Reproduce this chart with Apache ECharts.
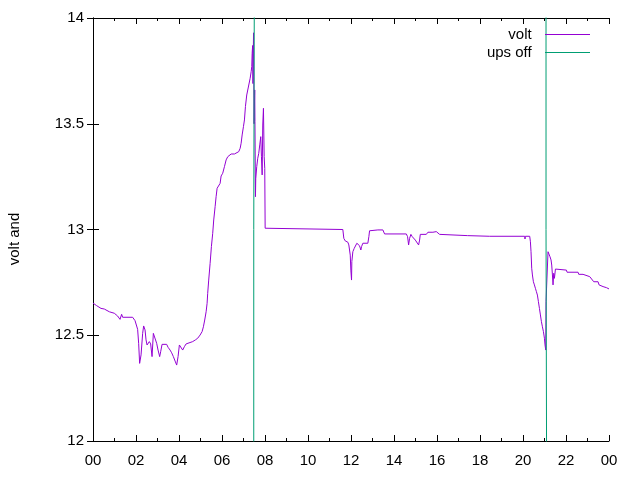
<!DOCTYPE html>
<html>
<head>
<meta charset="utf-8">
<title>volt</title>
<style>
  html, body { margin: 0; padding: 0; background: #fff; }
  #charts { width: 640px; height: 480px; }
</style>
</head>
<body>
<div id="charts"></div>
<script src="https://cdn.jsdelivr.net/npm/echarts@6/dist/echarts.min.js"></script>
<script>
// hours of day (0..24) and battery voltage
var voltHours = [0, 0.168, 0.372, 0.526, 0.759, 0.992, 1.145, 1.257, 1.332, 1.378, 1.844, 1.955, 2.076, 2.123, 2.169, 2.235,
  2.309, 2.356, 2.421, 2.467, 2.514, 2.561, 2.621, 2.682, 2.747, 2.807, 2.868, 2.961, 3.026, 3.101, 3.147, 3.212,
  3.426, 3.492, 3.585, 3.659, 3.738, 3.818, 3.892, 3.957, 4.018, 4.111, 4.171, 4.250, 4.330, 4.637, 4.763, 4.870,
  4.981, 5.074, 5.135, 5.196, 5.261, 5.307, 5.335, 5.382, 5.447, 5.507, 5.568, 5.615, 5.680, 5.726, 5.773, 5.833,
  5.912, 5.959, 6.034, 6.113, 6.192, 6.266, 6.345, 6.425, 6.578, 6.657, 6.778, 6.844, 6.890, 6.937, 6.997, 7.044,
  7.090, 7.151, 7.244, 7.309, 7.356, 7.384, 7.402, 7.425, 7.439, 7.467, 7.491, 7.523, 7.533, 7.556, 7.570, 7.616,
  7.663, 7.709, 7.756, 7.803, 7.835, 7.868, 7.896, 7.928, 7.961, 7.989, 8.007, 11.620, 11.667, 11.732, 11.853, 11.899,
  11.965, 11.993, 12.025, 12.039, 12.086, 12.151, 12.212, 12.272, 12.337, 12.398, 12.458, 12.491, 12.551, 12.784,
  12.831, 12.863, 12.942, 13.250, 13.282, 13.306, 13.482, 13.562, 14.572, 14.632, 14.679, 14.725, 14.786, 14.851,
  14.912, 14.991, 15.065, 15.144, 15.191, 15.223, 15.503, 15.577, 15.810, 15.968, 16.122, 17.426, 18.450, 18.496,
  18.543, 20.079, 20.093, 20.112, 20.312, 20.345, 20.373, 20.405, 20.438, 20.484, 20.531, 20.577, 20.624, 20.670,
  20.717, 20.764, 20.810, 20.857, 20.903, 20.950, 20.996, 21.024, 21.057, 21.071, 21.164, 21.211, 21.257, 21.304,
  21.336, 21.369, 21.397, 21.429, 21.462, 21.508, 21.555, 22.020, 22.049, 22.561, 22.593, 22.793, 22.826, 23.105,
  23.152, 23.291, 23.492, 23.538, 23.724, 23.883, 24.0];
var voltValues = [12.652, 12.640, 12.627, 12.624, 12.611, 12.604, 12.591, 12.575, 12.599, 12.585, 12.585, 12.569, 12.528, 12.462, 12.367, 12.407,
  12.509, 12.544, 12.525, 12.478, 12.454, 12.462, 12.470, 12.459, 12.399, 12.509, 12.501, 12.462, 12.430, 12.399, 12.422, 12.457,
  12.457, 12.443, 12.430, 12.417, 12.399, 12.378, 12.359, 12.399, 12.454, 12.457, 12.430, 12.446, 12.459, 12.470, 12.478, 12.486,
  12.501, 12.517, 12.540, 12.572, 12.611, 12.651, 12.698, 12.761, 12.840, 12.919, 12.982, 13.045, 13.108, 13.155, 13.195, 13.202,
  13.218, 13.253, 13.266, 13.297, 13.329, 13.344, 13.352, 13.357, 13.357, 13.365, 13.368, 13.384, 13.408, 13.447, 13.486, 13.518,
  13.581, 13.636, 13.636, 13.715, 13.746, 13.770, 13.833, 13.870, 13.690, 13.930, 13.500, 13.660, 13.510, 13.155, 13.240, 13.297,
  13.337, 13.360, 13.400, 13.439, 13.344, 13.258, 13.494, 13.573, 13.344, 13.289, 13.006, 13.000, 12.958, 12.946, 12.940, 12.927,
  12.879, 12.808, 12.761, 12.848, 12.895, 12.911, 12.908, 12.935, 12.927, 12.923, 12.903, 12.919, 12.935, 12.935,
  12.966, 12.994, 12.998, 12.998, 12.990, 12.998, 12.998, 12.979, 12.979, 12.966, 12.927, 12.958, 12.977, 12.966,
  12.958, 12.950, 12.942, 12.927, 12.950, 12.977, 12.977, 12.987, 12.987, 12.990, 12.977, 12.971, 12.968, 12.960,
  12.968, 12.968, 12.955, 12.968, 12.968, 12.942, 12.895, 12.817, 12.785, 12.753, 12.738, 12.722, 12.706, 12.690,
  12.659, 12.627, 12.596, 12.564, 12.540, 12.517, 12.486, 12.454, 12.430, 12.660, 12.895, 12.887, 12.871, 12.856,
  12.832, 12.785, 12.738, 12.793, 12.769, 12.813, 12.808, 12.808, 12.798, 12.798, 12.788, 12.788, 12.780, 12.777,
  12.769, 12.753, 12.753, 12.738, 12.730, 12.725, 12.719];

// ups off markers (run off the plot top and bottom)
var upsHours = [7.477, 7.477, 7.523, 7.523, 14, 21.071, 21.071, 21.118, 21.118];
var upsValues = [11, 13, 13, 15, '-', 15, 13, 13, 11];

var xTicks = ['00', '02', '04', '06', '08', '10', '12', '14', '16', '18', '20', '22', '00'];

function zip(xs, ys) {
  var out = [];
  for (var i = 0; i < xs.length; i++) out.push([xs[i], ys[i]]);
  return out;
}

var myChart = echarts.init(document.getElementById('charts'));
var font = 'Liberation Sans, Arial, sans-serif';

var tickStyle = { show: true, inside: true, length: 6, lineStyle: { color: '#000' } };
var minorStyle = { show: true, splitNumber: 2, length: 3, lineStyle: { color: '#000' } };
var lineIcon = 'path://M0,0 L45,0 L45,1 L0,1 Z';

var option = {
  animation: false,
  textStyle: { fontFamily: font },
  grid: { left: 93, top: 18, width: 516, height: 423, containLabel: false },
  // y label sits at the canvas middle, like gnuplot does
  graphic: [{
    type: 'text',
    x: 15, y: 239,
    rotation: Math.PI / 2,
    style: { text: 'volt and', fill: '#000', font: '15px ' + font, align: 'center', verticalAlign: 'middle' }
  }],
  legend: {
    orient: 'vertical',
    right: 45,
    top: 22,
    align: 'right',
    itemWidth: 45,
    itemHeight: 1,
    itemGap: 3,
    symbolKeepAspect: true,
    formatter: function (name) { return name + '  '; },
    textStyle: { fontSize: 15, color: '#000', fontFamily: font },
    data: [{ name: 'volt', icon: lineIcon }, { name: 'ups off', icon: lineIcon }]
  },
  xAxis: [{
    type: 'value', min: 0, max: 24, interval: 2,
    axisLine: { lineStyle: { color: '#000' } },
    axisTick: tickStyle,
    minorTick: minorStyle,
    splitLine: { show: false },
    axisLabel: {
      color: '#000', fontSize: 15, margin: 12,
      formatter: function (v) { return xTicks[Math.round(v / 2)]; }
    }
  }, {
    type: 'value', min: 0, max: 24, interval: 2, position: 'top',
    axisLine: { lineStyle: { color: '#000' } },
    axisTick: tickStyle,
    minorTick: minorStyle,
    splitLine: { show: false },
    axisLabel: { show: false }
  }],
  yAxis: [{
    type: 'value', min: 12, max: 14, interval: 0.5,
    axisLine: { show: true, lineStyle: { color: '#000' } },
    axisTick: tickStyle,
    splitLine: { show: false },
    axisLabel: { color: '#000', fontSize: 15, margin: 9 }
  }, {
    type: 'value', min: 12, max: 14, interval: 0.5, position: 'right',
    axisLine: { show: true, lineStyle: { color: '#000' } },
    axisTick: tickStyle,
    splitLine: { show: false },
    axisLabel: { show: false }
  }],
  series: [{
    name: 'volt',
    type: 'line',
    data: zip(voltHours, voltValues),
    symbol: 'none',
    color: '#9400d3',
    lineStyle: { width: 1, color: '#9400d3' },
    clip: true
  }, {
    name: 'ups off',
    type: 'line',
    data: zip(upsHours, upsValues),
    symbol: 'none',
    color: '#009e73',
    lineStyle: { width: 1, color: '#009e73' },
    clip: true
  }]
};

myChart.setOption(option);
</script>
</body>
</html>
